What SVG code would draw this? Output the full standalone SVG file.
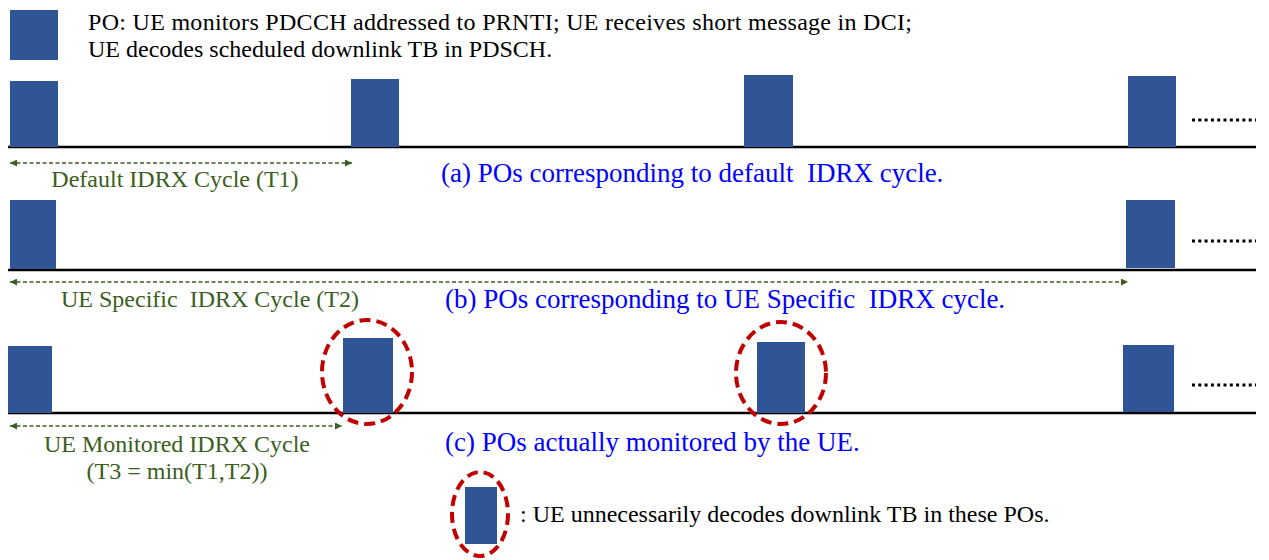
<svg xmlns="http://www.w3.org/2000/svg" width="1269" height="560" viewBox="0 0 1269 560">
<style>
.po{fill:#2F5597}
.base{stroke:#000;stroke-width:2.5}
.dots{stroke:#000;stroke-width:3;stroke-dasharray:3 3.3}
.ell{fill:none;stroke:#C00000;stroke-width:4;stroke-dasharray:11 6}
.arr{stroke:#3B5E21;stroke-width:1.3;stroke-dasharray:4 2.5;fill:none}
text{font-family:"Liberation Serif","Times New Roman",serif;white-space:pre}
.blk{fill:#000;font-size:24px}
.grn{fill:#3B5E21;font-size:24px}
.blu{fill:#0000FF;font-size:27px}
</style>
<defs>
<marker id="ah" viewBox="0 0 10 10" refX="10" refY="5" markerWidth="8" markerHeight="7" orient="auto-start-reverse" markerUnits="userSpaceOnUse">
<path d="M0,0 L10,5 L0,10 z" fill="#3B5E21"/>
</marker>
</defs>

<g id="legend-po">
<rect class="po" x="10" y="10" width="48" height="50"/>
<text class="blk" x="88" y="30" textLength="824" lengthAdjust="spacing">PO: UE monitors PDCCH addressed to PRNTI; UE receives short message in DCI;</text>
<text class="blk" x="88" y="57">UE decodes scheduled downlink TB in PDSCH.</text>
</g>

<g id="row-a">
<line class="base" x1="8" y1="147" x2="1256" y2="147"/>
<rect class="po" x="10" y="81" width="48" height="66"/>
<rect class="po" x="351" y="79" width="48" height="68"/>
<rect class="po" x="744" y="75" width="49" height="72"/>
<rect class="po" x="1128" y="76" width="48" height="71"/>
<line class="dots" x1="1192" y1="120" x2="1256" y2="120"/>
<text class="blu" x="441" y="182">(a) POs corresponding to default  IDRX cycle.</text>
</g>

<g id="row-b">
<line class="base" x1="8" y1="270" x2="1256" y2="270"/>
<rect class="po" x="10" y="200" width="46" height="69"/>
<rect class="po" x="1126" y="200" width="49" height="68"/>
<line class="dots" x1="1192" y1="241" x2="1256" y2="241"/>
<text class="blu" x="445" y="308">(b) POs corresponding to UE Specific  IDRX cycle.</text>
</g>

<g id="row-c">
<line class="base" x1="8" y1="413" x2="1256" y2="413"/>
<rect class="po" x="8" y="346" width="44" height="67"/>
<rect class="po" x="343" y="338" width="50" height="75"/>
<rect class="po" x="757" y="342" width="48" height="71"/>
<rect class="po" x="1123" y="345" width="51" height="67"/>
<line class="dots" x1="1192" y1="385" x2="1256" y2="385"/>
<ellipse class="ell" cx="367" cy="372" rx="45" ry="52"/>
<ellipse class="ell" cx="781" cy="373" rx="45" ry="51"/>
<text class="blu" x="445" y="451">(c) POs actually monitored by the UE.</text>
</g>

<g id="legend-circled">
<ellipse class="ell" cx="480" cy="514" rx="28" ry="42"/>
<rect class="po" x="465" y="487" width="32" height="57"/>
<text class="blk" x="520" y="522">: UE unnecessarily decodes downlink TB in these POs.</text>
</g>

<g id="connectors">
<line class="arr" x1="10" y1="163" x2="352" y2="163" marker-start="url(#ah)" marker-end="url(#ah)"/>
<text class="grn" x="175" y="187" text-anchor="middle">Default IDRX Cycle (T1)</text>
<line class="arr" x1="10" y1="282" x2="1128" y2="282" marker-start="url(#ah)" marker-end="url(#ah)"/>
<text class="grn" x="210" y="307" text-anchor="middle">UE Specific  IDRX Cycle (T2)</text>
<line class="arr" x1="10" y1="426" x2="342" y2="426" marker-start="url(#ah)" marker-end="url(#ah)"/>
<text class="grn" x="177" y="452" text-anchor="middle">UE Monitored IDRX Cycle</text>
<text class="grn" x="177" y="479" text-anchor="middle">(T3 = min(T1,T2))</text>
</g>
</svg>
